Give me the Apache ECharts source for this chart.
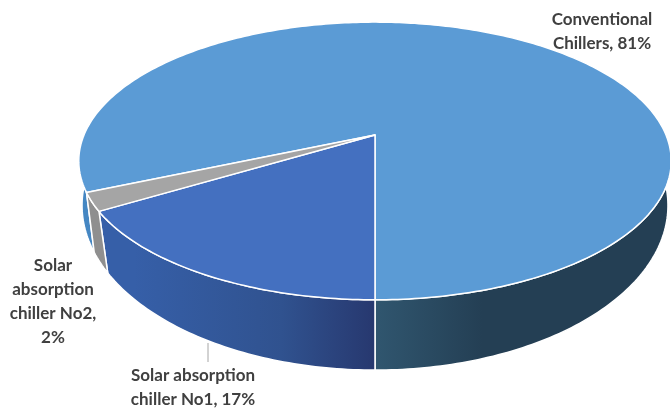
<!DOCTYPE html>
<html>
<head>
<meta charset="utf-8">
<style>html,body{margin:0;padding:0;background:#fff}#chart{width:670px;height:410px}</style>
<script src="https://cdn.jsdelivr.net/npm/echarts@6/dist/echarts.min.js"></script>
</head>
<body>
<div id="chart"></div>
<script>
// Chiller share of cooling supply
const categories = ['Conventional\nChillers', 'Solar absorption\nchiller No1', 'Solar\nabsorption\nchiller No2'];
const shares = [81, 17, 2];
const labelSeparators = [', ', ', ', ',\n'];

// First slice starts here, in degrees clockwise from the far side of the disc
const START_ANGLE = 248.4;
const CENTER_X = 375;

// Projection of the unit disc for the upper face and the lower rim;
// warp is a small angular correction for the foreshortened sides of the disc
const upperFace = { y0: 135, ax: 291, ay: 134, tilt: 0.187, warp: 2.6 };
const lowerRim = { y0: 189, ax: 291.5, ay: 163, tilt: 0.1, warp: 0.6 };

const topColors = ['#5b9bd5', '#4470c0', '#a5a5a5'];
const wallStops = [
  [[0, '#4587c3'], [0.559, '#4587c3'], [0.56, '#30566f'], [0.72, '#243f54'], [1, '#243f54']],
  [[0, '#365fa8'], [0.2, '#365fa8'], [0.42, '#30528f'], [0.56, '#27386f'], [1, '#27386f']],
  [[0, '#8f8f8f'], [1, '#8f8f8f']]
];
const labelAnchors = [[602, 8], [193, 364], [53, 254]];
const leader = [208, 343, 208, 362];
const frontWindows = [[85, 275], [445, 635]];

function project(p, deg) {
  const warped = deg - p.warp * Math.sin(2 * deg * Math.PI / 180);
  const r = warped * Math.PI / 180;
  const u = Math.sin(r), v = -Math.cos(r), d = 1 - p.tilt * v;
  return [CENTER_X + p.ax * u / d, p.y0 + p.ay * v / d];
}
function sliceRange(i) {
  let a = START_ANGLE;
  for (let k = 0; k < i; k++) a += shares[k] * 3.6;
  return [a, a + shares[i] * 3.6];
}
function arc(p, a, b) {
  const n = Math.max(2, Math.ceil(Math.abs(b - a)));
  const pts = [];
  for (let k = 0; k <= n; k++) pts.push(project(p, a + (b - a) * k / n));
  return pts;
}
const outline = { stroke: '#ffffff', lineWidth: 1.5, lineJoin: 'round' };

function renderWall(params) {
  const i = params.dataIndex;
  const [a, b] = sliceRange(i);
  const children = [];
  frontWindows.forEach(([lo, hi]) => {
    const s = Math.max(a, lo), e = Math.min(b, hi);
    if (e <= s) return;
    children.push({
      type: 'polygon',
      shape: { points: arc(upperFace, s, e).concat(arc(lowerRim, e, s)) },
      style: Object.assign({
        fill: {
          type: 'linear', x: 0, y: 0, x2: 670, y2: 0, global: true,
          colorStops: wallStops[i].map(([offset, color]) => ({ offset, color }))
        }
      }, outline)
    });
  });
  return { type: 'group', children };
}
function renderTop(params) {
  const i = params.dataIndex;
  const [a, b] = sliceRange(i);
  const apex = [CENTER_X, upperFace.y0];
  return {
    type: 'polygon',
    shape: { points: [apex].concat(arc(upperFace, a, b)) },
    style: Object.assign({ fill: topColors[i] }, outline)
  };
}
function renderLabel(params, api) {
  const i = params.dataIndex;
  return {
    type: 'text',
    style: {
      x: labelAnchors[i][0], y: labelAnchors[i][1],
      text: categories[i] + labelSeparators[i] + api.value(0) + '%',
      fill: '#404040', font: 'bold 17px Lato, sans-serif',
      align: 'center', verticalAlign: 'top', lineHeight: 24
    }
  };
}

const chart = echarts.init(document.getElementById('chart'), null, { renderer: 'canvas' });
chart.setOption({
  animation: false,
  backgroundColor: '#ffffff',
  graphic: [{
    type: 'line',
    shape: { x1: leader[0], y1: leader[1], x2: leader[2], y2: leader[3] },
    style: { stroke: '#a6a6a6', lineWidth: 1 }
  }],
  series: [
    { type: 'custom', name: 'wall', coordinateSystem: 'none', data: shares, renderItem: renderWall, silent: true, z: 1 },
    { type: 'custom', name: 'top', coordinateSystem: 'none', data: shares, renderItem: renderTop, silent: true, z: 2 },
    { type: 'custom', name: 'label', coordinateSystem: 'none', data: shares, renderItem: renderLabel, silent: true, z: 3 }
  ]
});
</script>
</body>
</html>
